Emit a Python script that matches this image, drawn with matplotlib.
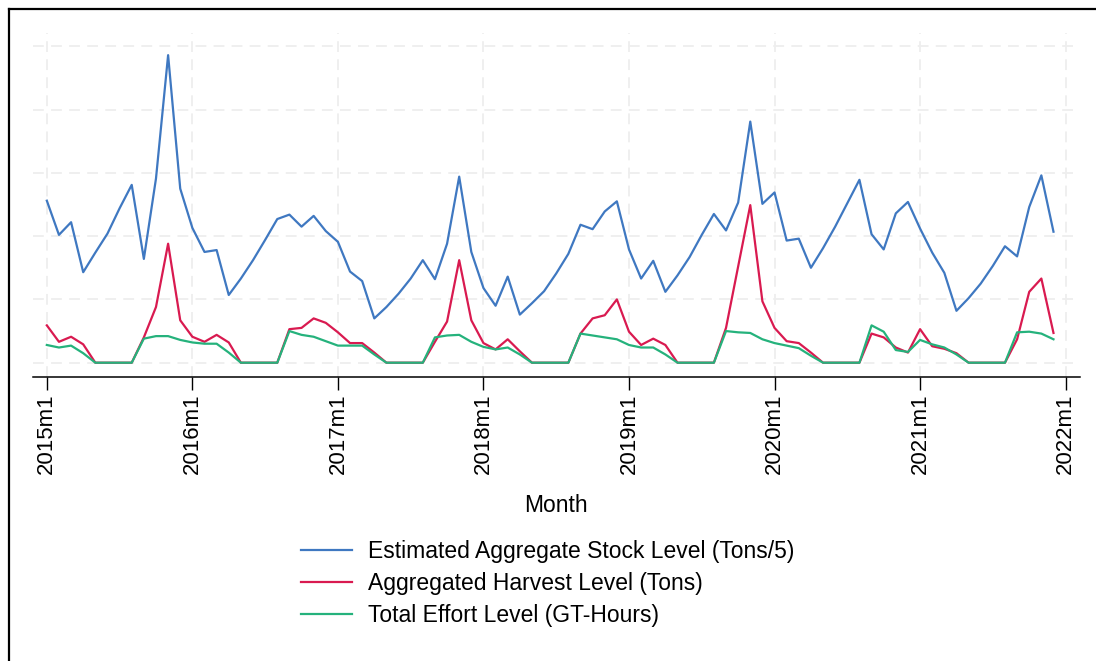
import matplotlib
matplotlib.use("Agg")
import matplotlib.pyplot as plt
from matplotlib.lines import Line2D
import numpy as np

plt.rcParams['font.family'] = ['Liberation Sans', 'DejaVu Sans']

# monthly series 2015m1 .. 2021m12
stock = [2.56, 2.02, 2.22, 1.43, 1.74, 2.04, 2.44, 2.81, 1.64, 2.91, 4.86, 2.75,
         2.13, 1.75, 1.78, 1.07, 1.33, 1.62, 1.94, 2.27, 2.34, 2.15, 2.32, 2.08,
         1.91, 1.44, 1.29, 0.70, 0.88, 1.09, 1.33, 1.62, 1.32, 1.88, 2.94, 1.75,
         1.18, 0.90, 1.36, 0.76, 0.94, 1.13, 1.41, 1.72, 2.18, 2.11, 2.39, 2.55,
         1.79, 1.33, 1.61, 1.12, 1.38, 1.67, 2.02, 2.35, 2.09, 2.53, 3.81, 2.51,
         2.69, 1.93, 1.96, 1.50, 1.81, 2.15, 2.52, 2.89, 2.03, 1.79, 2.36, 2.54,
         2.12, 1.74, 1.42, 0.82, 1.02, 1.25, 1.53, 1.84, 1.68, 2.46, 2.96, 2.07]
harvest = [0.59, 0.33, 0.41, 0.29, 0, 0, 0, 0, 0.40, 0.88, 1.88, 0.67,
           0.41, 0.33, 0.44, 0.32, 0, 0, 0, 0, 0.53, 0.55, 0.70, 0.63,
           0.48, 0.31, 0.31, 0.16, 0, 0, 0, 0, 0.33, 0.65, 1.62, 0.67,
           0.31, 0.21, 0.37, 0.18, 0, 0, 0, 0, 0.46, 0.70, 0.75, 1.00,
           0.49, 0.28, 0.38, 0.28, 0, 0, 0, 0, 0.55, 1.52, 2.49, 0.97,
           0.55, 0.34, 0.31, 0.16, 0, 0, 0, 0, 0.46, 0.40, 0.24, 0.16,
           0.53, 0.26, 0.22, 0.15, 0, 0, 0, 0, 0.37, 1.12, 1.33, 0.47]
effort = [0.28, 0.24, 0.27, 0.15, 0, 0, 0, 0, 0.38, 0.42, 0.42, 0.36,
          0.32, 0.30, 0.30, 0.16, 0, 0, 0, 0, 0.50, 0.44, 0.41, 0.34,
          0.27, 0.27, 0.27, 0.13, 0, 0, 0, 0, 0.40, 0.43, 0.44, 0.33,
          0.25, 0.21, 0.24, 0.13, 0, 0, 0, 0, 0.46, 0.43, 0.40, 0.37,
          0.28, 0.24, 0.24, 0.13, 0, 0, 0, 0, 0.50, 0.48, 0.47, 0.37,
          0.31, 0.27, 0.23, 0.11, 0, 0, 0, 0, 0.59, 0.49, 0.20, 0.17,
          0.36, 0.29, 0.24, 0.13, 0, 0, 0, 0, 0.48, 0.49, 0.46, 0.37]
years = list(range(2015, 2023))
tick_labels = [f"{y}m1" for y in years]

months = np.arange(len(stock))

fig = plt.figure(figsize=(10.96, 6.61), dpi=100)
ax = fig.add_axes([0.030, 1 - 377 / 661, 0.955, (377 - 33) / 661])

ax.plot(months, stock, color='#3f78c1', lw=1.6, label='Estimated Aggregate Stock Level (Tons/5)')
ax.plot(months, harvest, color='#d91a50', lw=1.6, label='Aggregated Harvest Level (Tons)')
ax.plot(months, effort, color='#25b27c', lw=1.6, label='Total Effort Level (GT-Hours)')

ax.set_xlim(-1.15, 85.15)
ax.set_ylim(-0.226, 5.21)
ax.set_xticks([12 * (y - 2015) for y in years])
ax.set_xticklabels(tick_labels, rotation=90, fontsize=16)
ax.set_yticks([0, 1, 2, 3, 4, 5])
ax.tick_params(axis='y', left=False, labelleft=False)
ax.tick_params(axis='x', length=9, width=1, pad=3)
ax.grid(True, color='#eeeeee', ls=(0, (6, 4)), lw=1.3)
ax.set_axisbelow(True)
for s in ['top', 'right', 'left']:
    ax.spines[s].set_visible(False)
ax.spines['bottom'].set_linewidth(1.1)

ax.set_xlabel('Month', fontsize=16.5, labelpad=14)

fig.legend(loc='upper left', bbox_to_anchor=(301 / 1096, 1 - 540 / 661), frameon=False,
           fontsize=16.5, handlelength=2.22, handletextpad=0.7, labelspacing=0.385,
           borderaxespad=0, borderpad=0)

# outer frame (top and left edges visible)
fig.add_artist(Line2D([8.5 / 1096, 8.5 / 1096], [0, 1 - 8.5 / 661], transform=fig.transFigure, color='black', lw=1.6))
fig.add_artist(Line2D([8.5 / 1096, 1], [1 - 8.5 / 661, 1 - 8.5 / 661], transform=fig.transFigure, color='black', lw=1.6))

fig.savefig('out.png', dpi=100)
